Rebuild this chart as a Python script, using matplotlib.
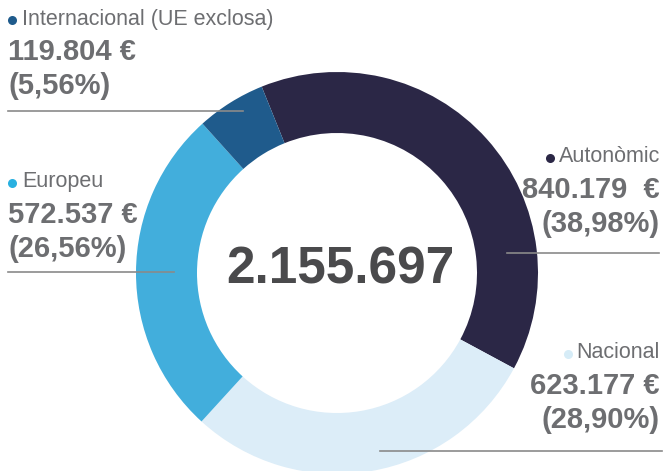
import numpy as np
from matplotlib import pyplot as plt

plt.rcParams['font.family'] = ['Liberation Sans', 'DejaVu Sans']

# data
labels = ["Autonòmic", "Nacional", "Europeu", "Internacional (UE exclosa)"]
values = [840179, 623177, 572537, 119804]
value_texts = ["840.179  €", "623.177 €", "572.537 €", "119.804 €"]
pct_texts = ["(38,98%)", "(28,90%)", "(26,56%)", "(5,56%)"]
total_text = "2.155.697"

ring_colors = ["#2b2746", "#dcedf8", "#42aedc", "#1f5b8c"]
dot_colors = ["#2b2746", "#d6ecf7", "#29b0e0", "#1f5b8c"]
grey = "#6d6e71"

W, H = 667, 471
fig = plt.figure(figsize=(W / 100, H / 100), dpi=100)
ax = fig.add_axes([0, 0, 1, 1])

cx, cy = 337, H - 273
ax.pie(values, colors=ring_colors, startangle=112, counterclock=False,
       radius=201, center=(cx, cy), frame=True,
       wedgeprops=dict(width=61, linewidth=0))
ax.set_xlim(0, W)
ax.set_ylim(0, H)
ax.set_aspect("equal")
ax.axis("off")

ax.text(cx + 3, H - 270, total_text, fontsize=37, fontweight="bold",
        color="#4a4a4c", ha="center", va="center")

# label blocks: (x anchor, align, y of label, y of line, line x range)
blocks = [
    (660, "right", 157, 253, (507, 659)),
    (660, "right", 353, 451, (380, 662)),
    (8, "left", 182, 272, (8, 174)),
    (8, "left", 19, 111, (8, 243)),
]

r = fig.canvas.get_renderer()
for i, (x, ha, y0, yl, (x1, x2)) in enumerate(blocks):
    if ha == "left":
        ax.plot([x + 4], [H - y0 - 1], "o", ms=6.5, color=dot_colors[i], mec="none")
        ax.text(x + 14, H - y0, labels[i], fontsize=15.5, color=grey,
                ha="left", va="center")
    else:
        t = ax.text(x, H - y0, labels[i], fontsize=15.5, color=grey,
                    ha="right", va="center")
        bb = t.get_window_extent(renderer=r)
        ax.plot([bb.x0 - 9], [H - y0 - 1], "o", ms=6.5, color=dot_colors[i], mec="none")
    ax.text(x, H - y0 - 33, value_texts[i], fontsize=21, fontweight="bold",
            color=grey, ha=ha, va="center")
    ax.text(x, H - y0 - 67, pct_texts[i], fontsize=21, fontweight="bold",
            color=grey, ha=ha, va="center")
    ax.plot([x1, x2], [H - yl, H - yl], color="#8a8a8a", lw=1.2)

fig.savefig("out.png", dpi=100)
